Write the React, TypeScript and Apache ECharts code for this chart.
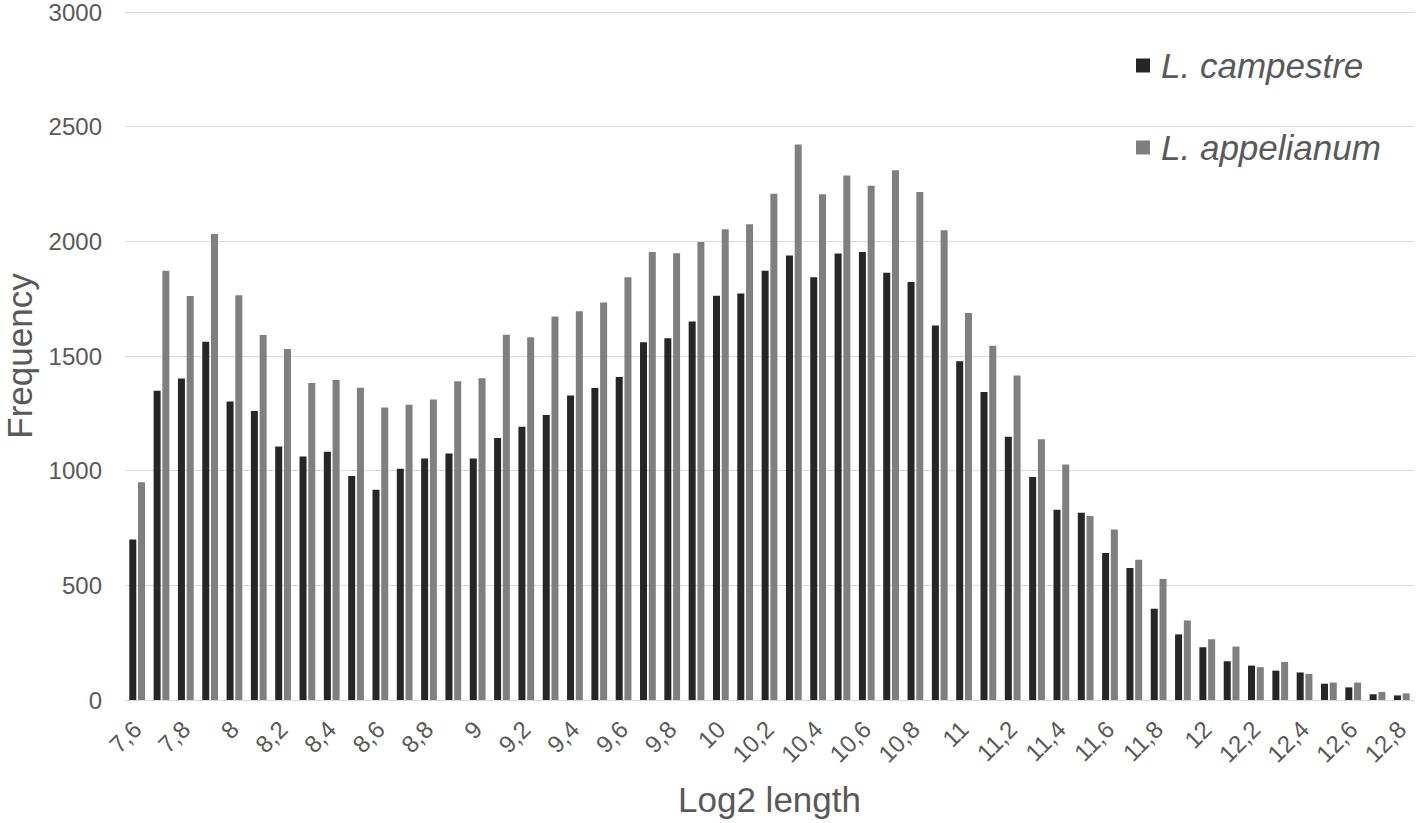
import React, { useEffect, useRef } from "react";
import * as echarts from "echarts";

const categories = [
  "7,6", "7,7", "7,8", "7,9", "8", "8,1", "8,2", "8,3", "8,4", "8,5",
  "8,6", "8,7", "8,8", "8,9", "9", "9,1", "9,2", "9,3", "9,4", "9,5",
  "9,6", "9,7", "9,8", "9,9", "10", "10,1", "10,2", "10,3", "10,4", "10,5",
  "10,6", "10,7", "10,8", "10,9", "11", "11,1", "11,2", "11,3", "11,4", "11,5",
  "11,6", "11,7", "11,8", "11,9", "12", "12,1", "12,2", "12,3", "12,4", "12,5",
  "12,6", "12,7", "12,8",
];

const campestre = [
  700, 1348, 1402, 1562, 1302, 1260, 1105, 1062, 1083, 977,
  917, 1008, 1053, 1075, 1053, 1142, 1192, 1243, 1328, 1360,
  1408, 1560, 1577, 1650, 1763, 1773, 1872, 1938, 1843, 1947,
  1953, 1863, 1823, 1633, 1477, 1343, 1148, 972, 830, 817,
  641, 576, 398, 286, 230, 169, 150, 128, 120, 71,
  55, 25, 20,
];

const appelianum = [
  950, 1872, 1762, 2032, 1765, 1592, 1530, 1382, 1395, 1362,
  1275, 1287, 1310, 1390, 1403, 1593, 1582, 1672, 1695, 1733,
  1843, 1953, 1948, 1997, 2053, 2075, 2207, 2422, 2205, 2287,
  2242, 2310, 2215, 2048, 1687, 1545, 1415, 1137, 1027, 802,
  743, 612, 528, 347, 265, 233, 143, 166, 114, 76,
  76, 35, 29,
];

const yTicks = { min: 0, max: 3000, interval: 500 };

const FONT = "'Liberation Sans', Arial, sans-serif";
const TEXT = "#595959";

export default function App() {
  const ref = useRef<HTMLDivElement>(null);

  useEffect(() => {
    if (!ref.current) return;
    const chart = echarts.init(ref.current, undefined, { renderer: "svg" });
    chart.setOption({
      animation: false,
      backgroundColor: "#ffffff",
      textStyle: { fontFamily: FONT },
      grid: {
        left: 125,
        right: 2,
        top: 12,
        bottom: 123,
        containLabel: false,
        outerBoundsMode: "none",
      },
      legend: {
        orient: "vertical",
        left: 1131,
        top: 43,
        align: "left",
        itemWidth: 14,
        itemHeight: 14,
        itemGap: 47,
        icon: "rect",
        textStyle: {
          fontFamily: FONT,
          fontSize: 35,
          fontStyle: "italic",
          color: TEXT,
          padding: [0, 0, 0, 6],
        },
        data: ["L. campestre", "L. appelianum"],
      },
      xAxis: {
        type: "category",
        data: categories,
        name: "Log2 length",
        nameLocation: "middle",
        nameGap: 82,
        nameTextStyle: { fontFamily: FONT, fontSize: 35, color: TEXT },
        axisLine: { show: true, lineStyle: { color: "#d9d9d9", width: 1 } },
        axisTick: { show: false },
        axisLabel: {
          interval: 1,
          rotate: 45,
          margin: 25,
          fontFamily: FONT,
          fontSize: 24,
          color: TEXT,
        },
      },
      yAxis: {
        type: "value",
        min: yTicks.min,
        max: yTicks.max,
        interval: yTicks.interval,
        name: "Frequency",
        nameLocation: "middle",
        nameGap: 88,
        nameTextStyle: { fontFamily: FONT, fontSize: 35, color: TEXT },
        axisLine: { show: false },
        axisTick: { show: false },
        axisLabel: {
          margin: 23,
          fontFamily: FONT,
          fontSize: 24,
          color: TEXT,
          formatter: (v: number) => String(v),
        },
        splitLine: { lineStyle: { color: "#d9d9d9", width: 1 } },
      },
      series: [
        {
          name: "L. campestre",
          type: "bar",
          data: campestre,
          barWidth: 7,
          barGap: "25%",
          itemStyle: { color: "#262626" },
        },
        {
          name: "L. appelianum",
          type: "bar",
          data: appelianum,
          barWidth: 7,
          barGap: "25%",
          itemStyle: { color: "#7f7f7f" },
        },
      ],
    });
    return () => chart.dispose();
  }, []);

  return (
    <div
      ref={ref}
      style={{ position: "fixed", left: 0, top: 0, width: 1416, height: 823 }}
    />
  );
}
